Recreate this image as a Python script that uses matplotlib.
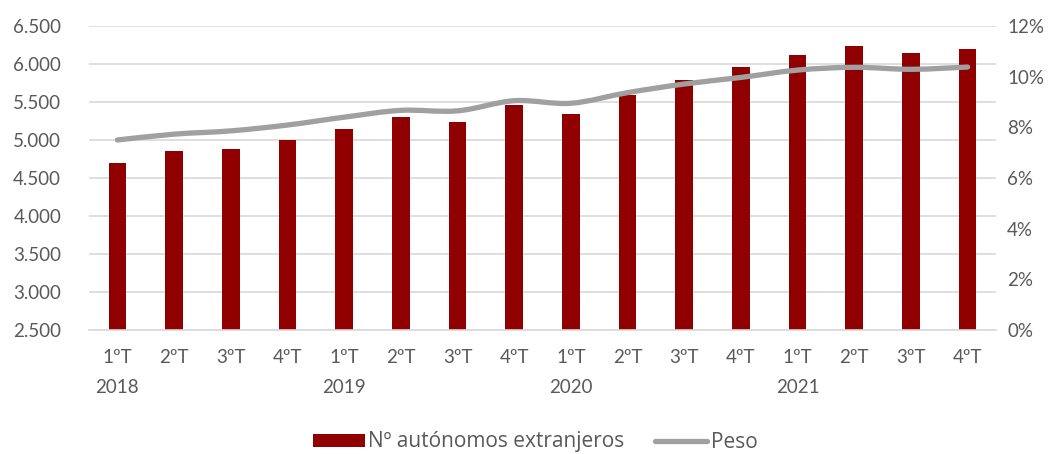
import matplotlib
matplotlib.use("Agg")
import matplotlib.pyplot as plt
from matplotlib.path import Path
from matplotlib.patches import PathPatch
from matplotlib.lines import Line2D
from matplotlib.patches import Patch
import numpy as np

quarters = ["1ºT", "2ºT", "3ºT", "4ºT"] * 4
years = ["2018", "2019", "2020", "2021"]
autonomos = [4700, 4850, 4880, 5000, 5150, 5300, 5240, 5465,
             5340, 5590, 5795, 5955, 6125, 6235, 6145, 6195]
peso = [7.50, 7.73, 7.86, 8.09, 8.40, 8.67, 8.65, 9.05,
        8.95, 9.37, 9.71, 9.97, 10.26, 10.37, 10.29, 10.38]

plt.rcParams['font.family'] = ['Lato', 'DejaVu Sans']
txt = '#595959'
fig = plt.figure(figsize=(10.62, 4.54), dpi=100)
ax = fig.add_axes([89/1062, 1-330/454, (996-89)/1062, (330-26)/454])
ax2 = ax.twinx()

x = np.arange(len(autonomos))
ax.bar(x, autonomos, width=0.31, color='#900000', zorder=2, bottom=0)
ax.set_ylim(2500, 6500)
ax.set_xlim(-0.5, len(x) - 0.5)
ax.set_yticks(np.arange(2500, 6501, 500))
ax.set_yticklabels([f"{v:,}".replace(",", ".") for v in range(2500, 6501, 500)])
ax.grid(axis='y', color='#D9D9D9', linewidth=1.2, zorder=0)
ax.set_axisbelow(True)
for s in ['top', 'left', 'right']:
    ax.spines[s].set_visible(False)
    ax2.spines[s].set_visible(False)
ax.spines['bottom'].set_color('#D9D9D9')
ax.spines['bottom'].set_linewidth(1.2)
ax2.spines['bottom'].set_visible(False)
ax.tick_params(axis='both', length=0, labelsize=13.5, colors=txt)
ax.tick_params(axis='y', pad=20)
ax.set_xticks(x)
ax.set_xticklabels(quarters)
ax.tick_params(axis='x', pad=14)
for i, yr in enumerate(years):
    ax.text(i * 4, -0.16, yr, transform=ax.get_xaxis_transform(),
            ha='center', va='top', fontsize=13.5, color=txt)

ax2.set_ylim(0, 12)
ax2.set_yticks(np.arange(0, 13, 2))
ax2.set_yticklabels([f"{v}%" for v in range(0, 13, 2)])
ax2.tick_params(axis='y', length=0, labelsize=13.5, colors=txt, pad=8)

# smoothed line (Catmull-Rom style Bezier like Excel smoothing)
px = list(x.astype(float))
py = list(peso)
verts = [(px[0], py[0])]
codes = [Path.MOVETO]
n = len(px)
for i in range(n - 1):
    p0 = (px[max(i - 1, 0)], py[max(i - 1, 0)])
    p1 = (px[i], py[i])
    p2 = (px[i + 1], py[i + 1])
    p3 = (px[min(i + 2, n - 1)], py[min(i + 2, n - 1)])
    c1 = (p1[0] + (p2[0] - p0[0]) / 6, p1[1] + (p2[1] - p0[1]) / 6)
    c2 = (p2[0] - (p3[0] - p1[0]) / 6, p2[1] - (p3[1] - p1[1]) / 6)
    verts += [c1, c2, p2]
    codes += [Path.CURVE4] * 3
patch = PathPatch(Path(verts, codes), facecolor='none', edgecolor='#A0A0A0',
                  linewidth=3.8, capstyle='round', zorder=3)
ax2.add_patch(patch)

handles = [Patch(facecolor='#900000'),
           Line2D([0], [0], color='#A0A0A0', linewidth=3.8, solid_capstyle='round')]
fig.legend(handles, ["Nº autónomos extranjeros", "Peso"], loc='center',
           bbox_to_anchor=(535/1062, 1-442/454), ncol=2, frameon=False,
           prop={'family': ['Open Sans', 'DejaVu Sans'], 'size': 15},
           labelcolor=txt, handlelength=2.5, handleheight=0.6, handletextpad=0.15,
           columnspacing=1.5)

fig.savefig("out.png", dpi=100)
